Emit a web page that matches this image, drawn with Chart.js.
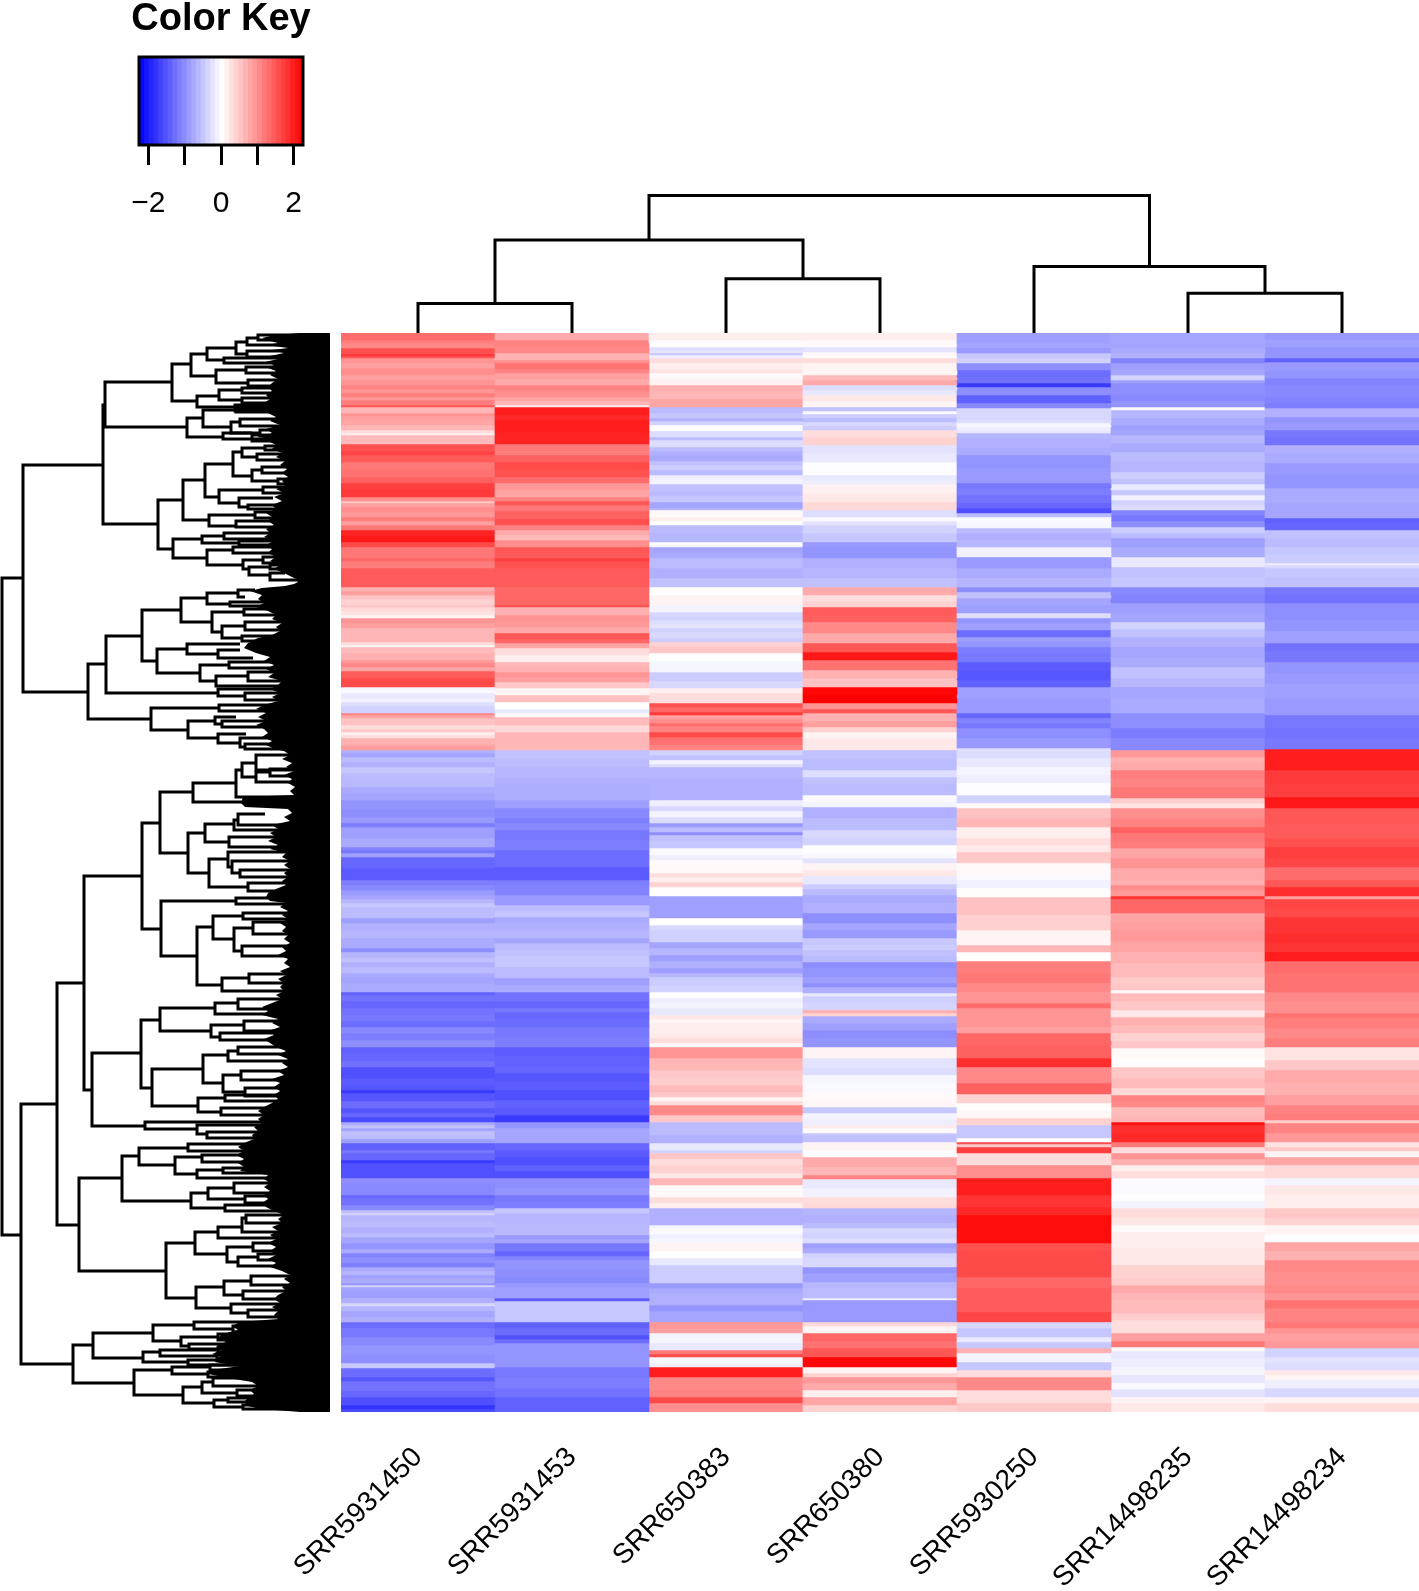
<!DOCTYPE html>
<html>
<head>
<meta charset="utf-8">
<title>Heatmap</title>
<script src="https://cdn.jsdelivr.net/npm/chart.js@4"></script>
<style>
body { margin: 0; background: #fff; }
#page { position: relative; width: 1419px; height: 1591px; overflow: hidden; }
canvas { position: absolute; display: block; }
#keyChart { left: 100px; top: 0; }
#heatChart { left: 0; top: 333px; }
#rowTree { left: 0; top: 333px; }
#colTree { left: 341px; top: 190px; }
</style>
</head>
<body>
<div id="page">
  <canvas id="heatChart" width="1419" height="1258"></canvas>
  <canvas id="rowTree" width="330" height="1079"></canvas>
  <canvas id="colTree" width="1078" height="143"></canvas>
  <canvas id="keyChart" width="242" height="225"></canvas>
</div>
<script>
const samples = ['SRR5931450', 'SRR5931453', 'SRR650383', 'SRR650380', 'SRR5930250', 'SRR14498235', 'SRR14498234'];

const srr5931450 = [[7,1.3],[10,1.15],[15,1.05],[21,1.55],[23,1.8],[25,1.5],[30,.95],[35,.85],[42,1],[47,.85],[52,.95],[56,1.1],[60,.95],[64,1.15],[67,.9],[72,1.15],[74,1.5],[80,.65],[83,.95],[87,.85],[92,.8],[97,.65],[100,.3],[102,.15],[111,.6],[118,1.55],[122,1.65],[129,1.45],[136,1.2],[144,1.25],[150,1.4],[156,1.7],[164,1.75],[168,1],[170,.5],[174,.85],[179,1],[184,.9],[188,1.15],[192,.85],[197,1.2],[203,1.95],[209,2.05],[214,1.6],[225,1.2],[228,1.35],[235,1.15],[254,1.45],[258,.7],[262,.85],[266,.55],[272,.4],[274,.55],[278,.35],[282,.25],[285,.1],[290,.95],[295,.85],[309,.65],[312,.3],[314,.1],[320,.6],[327,.7],[330,.9],[334,1.05],[338,.8],[345,1.45],[354,1.6],[357,-.1],[360,-.05],[365,-.2],[369,-.12],[373,-.3],[380,-.4],[382,1.1],[385,.8],[392,.55],[396,.3],[399,.5],[402,.15],[405,.3],[412,.7],[417,.85],[420,-.7],[424,-.8],[429,-.6],[434,-.7],[440,-.5],[447,-.6],[454,-.62],[460,-.75],[467,-.8],[476,-.95],[484,-1],[490,-.9],[494,-1.15],[497,-.85],[505,-.85],[514,-.75],[517,-1.1],[520,-1.2],[524,-.85],[535,-1.35],[547,-1.45],[552,-1.15],[557,-1.05],[562,-.9],[566,-.8],[570,-.65],[574,-.5],[585,-.6],[590,-.85],[597,-.7],[605,-.65],[615,-.75],[619,-1],[625,-.65],[629,-.55],[634,-.7],[640,-.6],[644,-.75],[650,-.8],[659,-.75],[662,-1.4],[668,-1.25],[675,-1.35],[682,-1.25],[688,-1.2],[694,-1.3],[700,-1.05],[707,-1.15],[714,-1],[720,-1.4],[728,-1.35],[734,-1.25],[745,-1.55],[752,-1.45],[757,-1.5],[760,-1.75],[768,-1.5],[775,-1.3],[780,-1.5],[784,-1.35],[789,-1.6],[792,-.75],[795,-.55],[798,-.8],[802,-.55],[806,-.6],[810,-.85],[817,-1.4],[820,-1.2],[827,-1.35],[830,-1.75],[845,-1.55],[850,-1],[862,-1.05],[865,-1.35],[872,-1.25],[877,-1.05],[880,-.55],[882,-.4],[888,-.65],[894,-.6],[900,-.7],[904,-.6],[910,-.8],[916,-.95],[920,-.75],[924,-1.1],[930,-1],[934,-1.15],[938,-.75],[942,-.65],[945,-.85],[950,-.75],[952,-.95],[954,-.4],[958,-.8],[965,-.85],[970,-.7],[973,-.35],[978,-.65],[984,-.8],[989,-.7],[995,-1.3],[1004,-1.2],[1012,-1.05],[1022,-.95],[1030,-1],[1035,-.5],[1044,-1.3],[1048,-1.5],[1058,-1.25],[1064,-1.35],[1072,-1.55],[1076,-1.8],[1079,-1.6]];
const srr5931453 = [[7,.75],[14,1.1],[20,1.05],[27,.7],[30,1],[36,1.25],[40,1.1],[46,.85],[52,.75],[58,1.1],[64,1],[68,.8],[72,.65],[74,.15],[82,2],[87,1.9],[99,2],[111,1.95],[116,1.2],[122,1.15],[129,1.4],[136,1.6],[144,1.55],[150,1.3],[157,.9],[164,.8],[168,1.1],[172,1.5],[178,1.2],[186,1.4],[192,1.55],[197,1.1],[202,.75],[207,.6],[214,1],[220,1.5],[225,1.45],[228,1.7],[235,1.55],[254,1.45],[272,1.35],[274,1.55],[282,.7],[288,.95],[294,.9],[300,.75],[306,1.5],[310,1.35],[315,.8],[322,.3],[329,.15],[334,.65],[339,.7],[344,.95],[349,.85],[355,.5],[362,.1],[369,.55],[376,.0],[380,-.2],[384,.05],[392,.6],[399,.35],[417,.65],[426,-.55],[434,-.6],[444,-.65],[452,-.7],[467,-.72],[475,-.85],[485,-1.05],[490,-1.15],[497,-1.05],[507,-1.2],[517,-1.15],[525,-1.3],[534,-1.3],[547,-1.45],[552,-1.15],[562,-1.1],[572,-.9],[578,-.6],[584,-.5],[590,-.75],[597,-.7],[605,-.65],[610,-.8],[617,-.6],[623,-.55],[634,-.5],[645,-.6],[652,-.85],[659,-.75],[668,-1.25],[675,-1.35],[679,-1.2],[686,-1.35],[694,-1.3],[704,-1.2],[714,-1.15],[723,-1.45],[734,-1.4],[740,-1.35],[748,-1.5],[757,-1.45],[767,-1.55],[775,-1.4],[782,-1.45],[789,-1.75],[795,-.95],[800,-.8],[810,-.8],[817,-1.35],[824,-1.45],[832,-1.55],[838,-1.4],[845,-1.55],[855,-1],[862,-.95],[868,-1.2],[875,-1.15],[880,-.5],[890,-.65],[902,-.62],[906,-.9],[910,-.8],[918,-1.2],[923,-1.35],[927,-1.1],[936,-.95],[944,-1],[950,-1.05],[954,-.9],[965,-.85],[968,-1.45],[989,-.5],[995,-1.4],[1002,-1.3],[1006,-1.55],[1010,-1.3],[1020,-.95],[1034,-.95],[1044,-1.2],[1055,-1.15],[1064,-1.25],[1079,-1.4]];
const srr650383 = [[7,.15],[10,-.05],[14,.02],[17,-.3],[20,-.25],[22,-.5],[25,-.15],[30,.3],[36,.15],[40,.25],[46,.05],[52,.12],[58,.7],[66,.65],[74,.8],[80,-.6],[85,-.5],[88,-.7],[92,-.4],[98,-.03],[104,-.3],[107,-.6],[114,-.3],[118,-.6],[122,-.7],[128,-.75],[132,-.55],[137,-.45],[142,-.6],[146,-.15],[151,-.1],[158,-.55],[163,-.6],[169,-.5],[175,-.8],[177,-.65],[184,.05],[188,.15],[192,.0],[200,-.6],[209,-.65],[212,-.03],[214,-.1],[220,-.8],[225,-.75],[235,-.6],[245,-.7],[254,-.55],[262,.0],[272,.1],[279,-.1],[283,-.35],[287,-.4],[291,-.3],[295,-.25],[299,-.4],[305,-.35],[309,-.45],[313,.4],[320,.5],[328,.0],[339,-.08],[348,-.45],[355,-.35],[360,.15],[370,.3],[374,1.55],[379,1.35],[382,1.75],[386,.85],[390,1],[393,1.3],[399,1.1],[404,1.6],[407,1.3],[412,1.25],[417,1.1],[422,-.4],[427,-.55],[431,-.1],[434,-.3],[445,-.65],[452,-.7],[467,-.7],[473,-.15],[478,-.35],[484,-.1],[490,-.3],[494,-.9],[499,-.6],[502,-1],[508,-.55],[515,-.5],[522,-.05],[527,-.15],[540,.05],[544,.3],[549,.15],[554,.4],[563,.02],[585,-.85],[592,.0],[597,-.35],[609,-.42],[615,-.8],[622,-.65],[628,-.85],[635,-.7],[640,-.85],[644,-.65],[652,-.45],[659,-.4],[665,-.02],[670,-.15],[675,-.1],[682,-.2],[686,.2],[690,.1],[700,.15],[705,.2],[710,.3],[714,.05],[725,.95],[737,.65],[745,.5],[752,.45],[759,.6],[764,.5],[768,.1],[772,.3],[782,1.05],[789,.5],[802,-.6],[810,-.7],[817,-.2],[820,-.4],[826,.5],[832,.3],[840,.4],[845,.2],[852,.65],[864,.05],[870,.3],[875,.15],[892,-.7],[895,-.1],[901,-.05],[905,-.15],[910,-.08],[918,.1],[925,.0],[932,-.2],[950,-.45],[955,-.9],[960,-.75],[972,-.7],[978,-.95],[989,-.8],[995,.9],[1000,.85],[1010,-.1],[1017,-.2],[1021,1.2],[1024,1.6],[1030,-.08],[1034,-.15],[1044,2],[1057,1.05],[1064,1.1],[1070,1.6],[1079,1]];
const srr650380 = [[7,.15],[14,.05],[19,-.25],[25,.05],[30,.3],[42,.1],[47,.6],[52,.75],[57,-.3],[62,-.2],[68,.2],[74,.1],[78,-.55],[81,-.05],[85,-.45],[89,-.6],[93,-.35],[97,-.45],[104,.3],[112,.4],[120,-.25],[129,-.2],[136,-.02],[142,-.03],[147,-.2],[151,-.15],[160,.12],[169,.2],[177,.35],[184,-.3],[188,-.05],[192,-.25],[200,-.4],[209,-.5],[214,-.9],[225,-.95],[235,-.7],[245,-.65],[254,-.55],[262,.75],[268,.3],[274,.4],[282,1.45],[289,1.4],[300,1.05],[310,.75],[319,1.5],[327,2.05],[337,1.25],[345,.7],[354,.55],[362,2.2],[370,2.25],[376,.95],[380,1.5],[388,.7],[394,.85],[399,.4],[405,.1],[417,.2],[426,-.55],[437,-.6],[444,-.3],[450,-.55],[462,-.6],[468,-.05],[474,-.1],[485,-.7],[497,-.6],[505,-.35],[512,-.4],[520,-.02],[525,-.05],[530,-.25],[537,.1],[543,.2],[551,-.2],[556,-.45],[562,-.6],[570,-.75],[580,-.7],[590,-1],[597,-.8],[605,-.9],[612,-.5],[617,-.45],[623,-.55],[629,-.6],[635,-1],[644,-.95],[650,-.85],[654,-1],[660,-.7],[663,-.2],[670,-.42],[677,-.38],[680,.7],[683,.4],[690,-.75],[697,-.85],[705,-1],[714,-.95],[725,.1],[735,-.25],[742,-.3],[750,-.08],[760,-.05],[768,.05],[774,.08],[780,-.5],[786,-.1],[792,-.15],[795,.2],[800,.05],[802,-.5],[809,-.55],[817,.1],[824,.02],[834,.75],[842,.65],[846,1.1],[855,-.2],[864,-.12],[870,.3],[875,.35],[882,-.65],[890,-.7],[895,-.6],[900,-.35],[905,-.4],[910,-.3],[915,-.85],[920,-.75],[925,-.4],[934,-.35],[940,-.95],[949,-.85],[955,-.65],[965,-.6],[967,-.15],[989,-.9],[993,.35],[1000,.1],[1008,1.35],[1015,1.25],[1024,1.5],[1034,2.2],[1040,.1],[1044,.4],[1050,.9],[1057,.75],[1064,.15],[1072,.8],[1079,.4]];
const srr5930250 = [[10,-.85],[15,-.8],[20,-.9],[25,-.5],[30,-.4],[37,-1],[44,-1.3],[50,-1.25],[54,-1.75],[62,-1],[70,-1.4],[75,-1.05],[87,-.35],[90,-.3],[94,-.08],[97,-.15],[100,-.2],[105,-.65],[115,-.7],[122,-.75],[135,-.95],[150,-.9],[155,-1.2],[162,-1.15],[170,-1.25],[175,-1.35],[180,-1.55],[184,-.6],[190,-.05],[195,-.08],[200,-.6],[207,-.7],[214,-.65],[224,-.12],[235,-.9],[245,-.75],[254,-.65],[259,-1],[265,-.55],[272,-.8],[280,-.85],[285,-.3],[290,-.95],[297,-.85],[304,-1.3],[308,-.85],[314,-.95],[320,-1.15],[329,-1.2],[338,-1.45],[347,-1.5],[354,-1.4],[365,-.85],[380,-.9],[385,-1.35],[390,-1.1],[395,-1.2],[405,-1],[415,-.9],[425,-.3],[434,-.2],[442,-.1],[450,-.15],[462,-.02],[470,-.4],[475,.05],[485,.55],[494,.65],[505,.15],[512,.3],[519,.2],[526,.5],[530,.45],[540,.05],[547,-.05],[555,-.12],[564,.03],[582,.55],[597,.42],[612,.1],[619,.65],[628,.03],[640,1.15],[650,1.2],[659,1.05],[670,.95],[675,1.3],[694,.95],[700,.85],[712,1.35],[725,1.4],[734,1.85],[750,1.05],[761,1.4],[770,.4],[778,.03],[785,.08],[792,.4],[805,-.5],[809,.0],[811,1.6],[814,.5],[820,1.7],[832,.3],[845,1],[862,2],[874,1.8],[882,1.9],[910,2.15],[918,1.55],[927,1.6],[944,1.6],[955,1.35],[964,1.45],[979,1.45],[989,1.65],[995,-.35],[1004,-.5],[1009,-.2],[1015,-.5],[1020,.7],[1029,-.1],[1037,-.5],[1044,.3],[1057,1.05],[1070,.3],[1079,.5]];
const srr14498235 = [[15,-.8],[20,-.75],[25,-.7],[30,-1.1],[36,-.85],[42,-.8],[47,-.4],[50,-.85],[54,-1],[62,-1],[68,-1.05],[74,-.95],[77,-.05],[85,-.65],[92,-.75],[97,-.85],[102,-.8],[110,-.65],[119,-.75],[128,-.6],[139,-.65],[146,-.45],[151,-.55],[157,-.2],[162,-.5],[167,-.12],[172,-.4],[177,-.3],[182,-1.1],[188,-1.2],[194,-1],[200,-.45],[205,-.6],[214,-.85],[224,-.75],[234,-.2],[244,-.55],[254,-.5],[262,-1.05],[270,-1.1],[280,-.85],[289,-.8],[296,-.4],[304,-.55],[314,-.7],[324,-.8],[334,-.75],[345,-.55],[354,-.65],[365,-.8],[380,-.75],[395,-1],[405,-1.15],[417,-1.05],[424,.9],[430,.7],[437,.75],[445,1.15],[454,1.1],[465,1.2],[470,.45],[475,.25],[485,1],[494,1.1],[500,1.4],[508,1.2],[515,1.15],[525,.8],[535,.95],[547,.75],[552,.7],[557,1],[563,.9],[566,1.8],[580,1.35],[590,.8],[597,.85],[608,.9],[619,.8],[630,.7],[644,.6],[650,.45],[657,.5],[660,.05],[668,.6],[677,.5],[684,.2],[692,.7],[700,.6],[708,.4],[715,.5],[725,.05],[734,.02],[745,.5],[755,.6],[762,.35],[768,1.1],[774,1.05],[782,.6],[789,.65],[792,2.1],[800,1.85],[809,1.9],[814,1.2],[820,.3],[826,.95],[832,.7],[838,.15],[845,.3],[860,-.05],[868,-.02],[875,-.1],[885,.3],[892,.22],[899,.05],[915,.15],[932,.2],[945,.4],[952,.45],[960,.75],[967,.65],[980,.6],[987,.45],[1000,.3],[1008,.85],[1014,1.2],[1018,.05],[1026,-.2],[1034,-.15],[1042,-.1],[1050,-.22],[1056,-.05],[1064,-.25],[1070,.1],[1079,.2]];
const srr14498234 = [[6,-.9],[14,-.85],[25,-.95],[29,-1.4],[38,-.9],[45,-.95],[52,-1.1],[64,-1.05],[70,-1.1],[75,-1.15],[84,-.7],[90,-.95],[97,-.9],[104,-1.2],[112,-1.25],[120,-.7],[130,-.75],[142,-.9],[155,-.95],[170,-.75],[185,-.8],[190,-1.4],[197,-1.35],[205,-.55],[214,-.6],[222,-.5],[230,-.45],[232,-.15],[235,-.35],[244,-.5],[254,-.55],[262,-1.2],[270,-1.25],[287,-1],[298,-.95],[310,-.85],[318,-1.25],[329,-1.2],[340,-.95],[350,-.9],[365,-.85],[382,-.9],[395,-1.2],[405,-1.25],[416,-1.2],[437,2],[450,1.75],[464,1.7],[475,2.05],[490,1.5],[505,1.45],[514,1.55],[525,1.7],[534,1.65],[547,1.3],[554,1.5],[563,1.85],[566,.85],[575,1.65],[584,1.6],[600,1.8],[610,1.85],[619,1.8],[628,2],[640,1.3],[659,1.25],[668,1.05],[680,1],[684,1.25],[695,1.15],[705,1.05],[714,1.15],[727,.25],[737,.5],[750,.75],[762,.7],[772,.85],[780,1.1],[787,1.15],[790,.45],[800,1.1],[809,.9],[814,.25],[818,.5],[824,.1],[832,.8],[845,.35],[852,-.1],[862,.2],[875,.15],[885,.5],[892,.4],[901,.1],[909,-.02],[918,.8],[927,.7],[938,1.05],[952,1],[960,1.05],[967,.95],[975,1.25],[989,1.1],[995,1.2],[1000,.95],[1008,.85],[1015,.9],[1024,-.4],[1030,-.25],[1037,-.3],[1042,.2],[1047,.1],[1055,-.15],[1064,-.35],[1070,.1],[1079,.3]];
const heatColumns = [srr5931450, srr5931453, srr650383, srr650380, srr5930250, srr14498235, srr14498234];
const rowCount = 1079;

// colour key
const keyBreaks = [-2.26,-2.13,-2,-1.87,-1.74,-1.61,-1.48,-1.35,-1.22,-1.09,-.96,-.83,-.7,-.57,-.44,-.31,-.18,-.05,.08,.21,.34,.47,.6,.73,.86,.99,1.12,1.25,1.38,1.51,1.64,1.77,1.9,2.03,2.14,2.26];
const keyTickValues = [-2, -1, 0, 1, 2];
const keyTickLabels = ['\u22122', '', '0', '', '2'];

// column dendrogram: [left x, left height, right x, right height, merge height]
const colTreeLinks = [
  [.5,0,1.5,0,29],
  [2.5,0,3.5,0,53],
  [5.5,0,6.5,0,39],
  [4.5,0,6,39,65],
  [1,29,3,53,91],
  [2,91,5.25,65,134.5]
];

// row dendrogram: [top row, top child depth, bottom row, bottom child depth, node depth]
const rowTreeLinks = [
  [245,23,902,21,2],[132,103,359,88,23],[72,105,191,158,103],[49,172,94,187,105],[31,191,68,197,172],[21,207,43,216,191],[15,236,27,224,207],[9,247,21,247,236],[5,258,12,300,247],[18,300,24,300,247],[2,300,7,300,258],[25,300,30,300,224],[37,246,50,248,216],[34,300,40,300,246],[47,300,53,300,248],[63,219,74,235,197],[57,242,67,242,219],[55,300,60,300,242],[65,300,70,300,242],[72,300,78,300,235],
  [85,203,104,223,187],[77,236,94,231,203],[74,300,79,300,236],[89,240,100,260,231],[86,300,93,300,240],[97,300,103,300,260],[100,252,106,300,223],[102,300,108,300,252],
  [167,183,216,173,158],[147,205,187,209,183],[131,233,164,219,205],[119,242,143,252,233],[115,265,124,257,242],[113,300,117,300,265],[121,300,127,300,257],[137,262,148,278,252],[134,300,140,300,262],[146,300,151,300,278],[157,263,170,239,219],[154,300,160,300,263],[165,273,174,248,239],[172,300,176,300,248],[182,255,193,236,209],[179,300,185,300,255],[188,300,194,300,236],
  [206,202,225,207,173],[203,224,210,239,202],[200,300,206,300,224],[208,300,212,300,239],[217,233,232,243,207],[214,300,220,300,233],[227,263,236,249,243],[224,300,230,300,263],[234,270,242,270,249],[232,300,236,300,270],[240,285,247,298,270],
  [331,106,386,151,88],[303,142,360,218,106],[277,181,328,157,142],[265,207,289,212,181],[260,238,271,230,207],[257,255,264,245,238],[269,300,273,300,230],[279,244,299,222,212],[276,300,282,300,244],[293,245,305,242,222],[289,300,297,300,245],[303,300,308,300,242],
  [316,187,340,200,157],[311,240,321,218,187],[317,240,325,253,218],[332,229,348,216,200],[329,300,335,300,229],[343,248,353,300,216],[339,300,348,300,248],[356,300,363,245,218],[360,300,367,300,245],
  [375,219,397,188,151],[372,300,378,300,219],[388,215,405,218,188],[384,236,391,222,215],[388,300,394,300,222],[401,246,410,240,218],[405,300,414,245,240],[411,300,416,300,245],
  [771,57,1031,73,21],[650,84,892,79,57],[543,142,757,92,84],[490,160,596,161,142],[459,193,520,188,160],[450,236,469,300,193],[437,242,464,300,236],[430,256,444,256,242],[422,300,437,300,256],[439,270,449,300,256],[436,300,443,300,270],
  [500,205,540,209,188],[491,234,509,229,205],[487,238,497,300,234],[481,265,492,300,238],[504,300,514,300,229],[526,228,554,248,209],[519,300,534,232,228],[528,300,540,240,232],[537,300,544,300,240],[550,300,558,300,248],
  [568,236,623,197,161],[565,300,571,300,236],[594,213,652,222,197],[583,243,606,234,213],[580,300,586,300,243],[595,253,618,242,234],[589,300,601,300,253],[613,300,623,300,242],[645,249,658,300,222],[641,300,650,300,249],
  [720,141,793,145,92],[687,160,755,152,141],[675,215,698,211,160],[670,238,681,300,215],[666,300,676,300,238],[692,244,704,220,211],[688,300,698,300,244],[700,300,707,300,220],
  [736,203,773,198,152],[722,228,750,223,203],[718,238,728,300,228],[714,300,721,300,238],[742,241,759,245,223],[738,300,747,300,241],[755,300,763,300,245],[765,225,779,221,198],[762,300,768,300,225],[775,300,782,300,221],
  [789,300,796,197,145],[792,300,801,207,197],[799,300,805,300,207],
  [845,122,938,166,79],[823,139,868,191,122],[815,188,832,175,139],[811,300,818,300,188],[824,202,841,197,175],[822,300,829,300,202],[837,223,845,300,197],[835,300,840,300,223],[860,208,875,225,191],[855,234,866,245,208],[850,300,860,300,234],[863,300,870,300,245],[872,300,878,300,225],
  [910,195,965,196,166],[899,218,921,227,195],[894,242,905,300,218],[885,246,899,300,242],[882,300,890,300,246],[914,253,929,238,227],[910,300,918,300,253],[924,258,933,300,238],[921,300,927,300,258],
  [954,224,975,231,196],[948,251,962,243,224],[943,300,952,300,251],[958,300,966,300,243],[971,300,980,248,231],[977,300,984,300,248],
  [1012,93,1050,134,73],[1000,153,1025,143,93],[992,194,1008,181,153],[989,300,996,233,194],[993,300,999,300,233],[1004,218,1013,189,181],[1001,300,1007,300,218],[1011,300,1016,300,189],[1019,160,1029,188,143],[1017,218,1023,217,160],[1015,300,1019,300,218],[1021,300,1025,300,217],[1027,300,1032,300,188],
  [1037,172,1062,183,134],[1034,210,1041,208,172],[1032,300,1037,300,210],[1039,300,1044,300,208],[1054,202,1070,214,183],[1049,213,1060,237,202],[1045,300,1053,300,213],[1057,300,1063,300,237],[1067,228,1074,243,214],[1065,300,1069,300,228],[1072,300,1076,300,243]
];

// left edge of the solid mass of leaf lines: [row, depth]
const leafEdge = [[0,300],[2,275],[5,262],[8,270],[10,278],[12,266],[15,288],[17,272],[20,284],[23,270],[26,278],[29,265],[32,274],[35,268],[38,276],[42,270],[46,278],[50,272],[54,268],[58,272],[62,266],[66,270],[70,264],[73,262],[74,236],[78,238],[80,268],[84,276],[88,270],[92,280],[96,266],[100,272],[104,262],[108,268],[112,276],[116,272],[120,282],[124,276],[128,285],[132,280],[136,287],[140,282],[144,288],[148,282],[152,286],[156,276],[160,284],[164,274],[168,282],[172,272],[176,276],[180,266],[184,272],[188,268],[192,274],[196,266],[200,270],[204,264],[208,274],[212,266],[216,272],[220,268],[224,276],[228,270],[232,280],[236,274],[240,284],[243,290],[246,296],[249,298],[251,294],[253,285],[255,262],[258,250],[262,262],[266,258],[270,264],[274,256],[278,268],[282,276],[286,272],[290,282],[294,276],[298,280],[302,272],[305,258],[310,248],[315,244],[320,256],[324,270],[328,264],[332,274],[336,266],[340,274],[344,268],[348,282],[352,278],[356,270],[360,280],[364,272],[368,278],[372,264],[376,256],[380,266],[384,258],[388,266],[392,256],[396,264],[400,268],[404,262],[408,272],[412,266],[416,275],[418,284],[422,290],[426,282],[430,292],[434,286],[438,294],[442,284],[446,292],[450,288],[454,295],[458,290],[462,294],[464,243],[470,241],[474,245],[476,288],[480,292],[484,284],[488,290],[492,272],[496,278],[500,270],[504,276],[508,268],[512,278],[516,270],[520,286],[524,282],[528,290],[532,284],[536,290],[540,284],[544,288],[548,282],[552,286],[556,276],[560,268],[564,266],[568,270],[570,286],[574,280],[578,288],[582,282],[586,288],[590,280],[594,286],[598,282],[602,288],[606,284],[610,290],[614,282],[618,286],[622,278],[626,288],[630,284],[634,290],[638,280],[642,286],[646,278],[650,284],[654,280],[658,284],[662,276],[666,282],[670,272],[674,262],[678,268],[682,262],[686,278],[690,272],[694,280],[698,268],[702,274],[706,264],[710,270],[714,276],[718,286],[722,278],[726,288],[730,282],[734,288],[738,278],[742,284],[746,272],[750,280],[754,274],[758,280],[762,274],[766,278],[770,272],[774,264],[778,258],[782,264],[786,258],[790,262],[794,254],[798,258],[802,252],[806,254],[810,244],[814,238],[818,244],[822,236],[826,244],[830,238],[834,244],[838,240],[842,268],[846,264],[850,270],[854,264],[858,270],[862,264],[866,268],[870,262],[874,266],[878,274],[882,284],[886,278],[890,282],[894,272],[898,278],[902,270],[906,276],[910,268],[914,276],[918,270],[922,276],[926,268],[930,276],[934,270],[938,282],[942,290],[946,284],[950,290],[954,282],[958,286],[962,278],[966,274],[970,280],[974,272],[978,278],[982,274],[986,278],[989,240],[993,232],[997,238],[1001,222],[1005,218],[1009,226],[1013,216],[1017,222],[1021,212],[1025,224],[1029,214],[1033,240],[1037,212],[1041,208],[1045,228],[1049,252],[1053,258],[1057,250],[1061,254],[1065,248],[1069,244],[1073,248],[1076,260],[1078,288],[1079,300]];
const maxDepth = 330;

const fontFamily = '"Liberation Sans", Arial, sans-serif';
const treeLine = 3;

// blue - white - red, same as the key
const zColor = (z) => {
    const t = Math.min(Math.abs(z) / 2.26, 1);
    const c = Math.round(255 * (1 - t));
    return z < 0 ? `rgb(${c},${c},255)` : `rgb(255,${c},${c})`;
};

// Heatmap: floating bars, one dataset per band position
const bandDatasets = [];
const maxBands = Math.max(...heatColumns.map((col) => col.length));
for (let i = 0; i < maxBands; i++) {
    bandDatasets.push({
        data: heatColumns.map((col) => (i < col.length ? [i ? col[i - 1][0] : 0, col[i][0]] : null)),
        backgroundColor: heatColumns.map((col) => (i < col.length ? zColor(col[i][1]) : 'transparent')),
        borderWidth: 0,
        barPercentage: 1,
        categoryPercentage: 1,
        grouped: false
    });
}

new Chart(document.getElementById('heatChart'), {
    type: 'bar',
    data: { labels: samples, datasets: bandDatasets },
    options: {
        responsive: false,
        animation: false,
        layout: { padding: { left: 341 } },
        plugins: { legend: { display: false }, tooltip: { enabled: false } },
        scales: {
            x: {
                afterFit: (scale) => { scale.height = 179; },
                grid: { display: false },
                border: { display: false },
                ticks: {
                    autoSkip: false,
                    minRotation: 45,
                    maxRotation: 45,
                    padding: 21,
                    color: '#000',
                    font: { family: fontFamily, size: 28 }
                }
            },
            y: { display: false, reverse: true, min: 0, max: rowCount }
        }
    }
});

// Row dendrogram
const rowTreeSets = rowTreeLinks.map(([r1, d1, r2, d2, d]) => ({
    data: [{ x: d1, y: r1 }, { x: d, y: r1 }, { x: d, y: r2 }, { x: d2, y: r2 }],
    showLine: true,
    pointRadius: 0,
    borderColor: '#000',
    borderWidth: treeLine,
    clip: false
}));
rowTreeSets.push({
    data: leafEdge.concat([[rowCount, maxDepth], [0, maxDepth]]).map(([r, d]) => ({ x: d, y: r })),
    showLine: true,
    pointRadius: 0,
    borderWidth: 0,
    backgroundColor: '#000',
    fill: 'shape'
});

new Chart(document.getElementById('rowTree'), {
    type: 'scatter',
    data: { datasets: rowTreeSets },
    options: {
        responsive: false,
        animation: false,
        plugins: { legend: { display: false }, tooltip: { enabled: false } },
        scales: {
            x: { display: false, min: 0, max: maxDepth },
            y: { display: false, reverse: true, min: 0, max: rowCount }
        }
    }
});

// Column dendrogram
new Chart(document.getElementById('colTree'), {
    type: 'scatter',
    data: {
        datasets: colTreeLinks.map(([x1, h1, x2, h2, h]) => ({
            data: [{ x: x1, y: h1 }, { x: x1, y: h }, { x: x2, y: h }, { x: x2, y: h2 }],
            showLine: true,
            pointRadius: 0,
            borderColor: '#000',
            borderWidth: treeLine,
            clip: false
        }))
    },
    options: {
        responsive: false,
        animation: false,
        plugins: { legend: { display: false }, tooltip: { enabled: false } },
        scales: {
            x: { display: false, min: 0, max: samples.length },
            y: { display: false, min: 0, max: 140 }
        }
    }
});

// Colour key
const keyBox = {
    id: 'keyBox',
    afterDatasetsDraw(chart) {
        const { ctx, chartArea: a } = chart;
        ctx.save();
        ctx.strokeStyle = '#000';
        ctx.lineWidth = 3;
        ctx.strokeRect(a.left, a.top, a.right - a.left, a.bottom - a.top);
        ctx.restore();
    }
};

// empty side axes keep the key narrow but let the title use the full canvas width
const keySideAxis = (position) => ({
    position,
    afterFit: (scale) => { scale.width = 39; },
    grid: { display: false },
    border: { display: false },
    ticks: { display: false }
});

new Chart(document.getElementById('keyChart'), {
    type: 'bar',
    data: {
        labels: ['key'],
        datasets: keyBreaks.slice(1).map((b, i) => ({
            data: [[keyBreaks[i], b]],
            backgroundColor: zColor((keyBreaks[i] + b) / 2),
            borderWidth: 0,
            barPercentage: 1,
            categoryPercentage: 1,
            grouped: false
        }))
    },
    options: {
        indexAxis: 'y',
        responsive: false,
        animation: false,
        plugins: {
            legend: { display: false },
            tooltip: { enabled: false },
            title: {
                display: true,
                text: 'Color Key',
                color: '#000',
                font: { family: fontFamily, size: 38, weight: 'bold', lineHeight: 1 },
                padding: { top: 1, bottom: 18 }
            }
        },
        scales: {
            x: {
                min: -2.26,
                max: 2.26,
                afterFit: (scale) => { scale.height = 80; },
                afterBuildTicks: (scale) => { scale.ticks = keyTickValues.map((value) => ({ value })); },
                border: { display: false },
                grid: { drawOnChartArea: false, tickLength: 20, lineWidth: 3, color: '#000' },
                ticks: {
                    autoSkip: false,
                    maxRotation: 0,
                    padding: 21,
                    color: '#000',
                    font: { family: fontFamily, size: 30 },
                    callback: (value) => keyTickLabels[keyTickValues.indexOf(value)]
                }
            },
            y: keySideAxis('left'),
            yRight: keySideAxis('right')
        }
    },
    plugins: [keyBox]
});
</script>
</body>
</html>
